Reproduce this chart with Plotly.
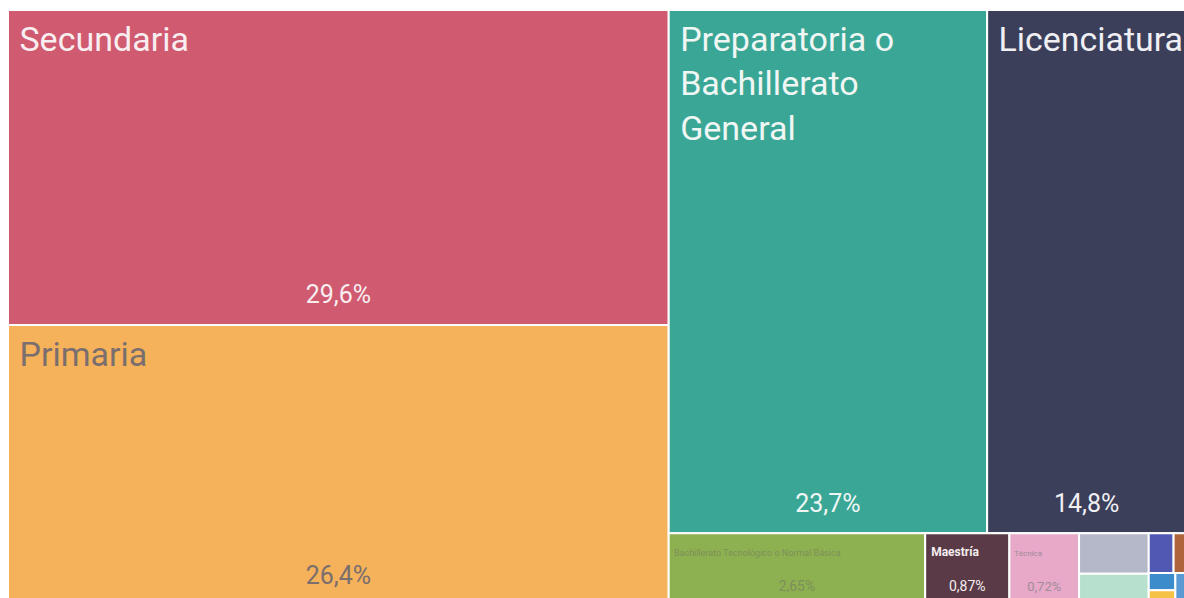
import plotly.graph_objects as go

# Nivel de escolaridad (porcentaje)
categories = [
    "Secundaria", "Primaria", "Preparatoria o Bachillerato General", "Licenciatura",
    "Bachillerato Tecnológico o Normal Básica", "Maestría", "Técnica",
    "Normal de Licenciatura", "Estudios Técnicos o Comerciales", "Ninguno",
    "Doctorado", "Preescolar", "Especialidad", "Otro",
]
# lines of the name shown in each tile ([] = no text on tiny tiles)
name_lines = [
    ["Secundaria"], ["Primaria"], ["Preparatoria o", "Bachillerato", "General"], ["Licenciatura"],
    ["Bachillerato Tecnológico o Normal Básica"], ["<b>Maestría</b>"], ["Técnica"],
    [], [], [], [], [], [], [],
]
shares = [29.6, 26.4, 23.7, 14.8, 2.65, 0.87, 0.72, 0.40, 0.32, 0.14, 0.07, 0.065, 0.06, 0.05]

colors = [
    "#d05a70", "#f5b25a", "#3aa796", "#3c3f5a", "#8db150", "#5a3a46", "#e8a8c8",
    "#b4b8c8", "#b8e0cf", "#5058b4", "#b0643c", "#3c8ccc", "#f5c246", "#5a9ad4",
]
text_colors = [
    "#f8eef0", "#7a6e6e", "#f0f6f4", "#f0f0f4", "#7d8f5a", "#f4eef0", "#a08c98",
    "#80848f", "#80a090", "#e0e2f4", "#f4e8e0", "#e0ecf8", "#8a7440", "#e0ecf8",
]
# visible font sizes, and base sizes (used as spacer lines)
name_size = [34, 34, 34, 34, 9, 12, 8, 8, 8, 8, 8, 8, 8, 8]
name_base = [17, 17, 17, 17, 9, 9, 9, 9, 9, 9, 9, 9, 9, 9]
pct_size = [25, 25, 25, 25, 14, 14, 13, 8, 8, 8, 8, 8, 8, 8]
pct_base = [12, 12, 12, 12, 8, 8, 8, 8, 8, 8, 8, 8, 8, 8]

FONT = "Roboto, sans-serif"
parents = [""] * len(categories)


def span(t, size):
    return f"<span style='font-size:{size}px'>\u00a0{t}</span>"


name_text = []
for lines, size in zip(name_lines, name_size):
    if lines:
        name_text.append("\u00a0<br>" + "<br><br>".join(span(l, size) for l in lines))
    else:
        name_text.append("")

pct_text = []
for v, lines, size in zip(shares, name_lines, pct_size):
    if lines:
        pct = f"{v:.3g}".replace(".", ",") + "%"
        pct_text.append(f"<span style='font-size:{size}px'>{pct}</span><br>\u00a0")
    else:
        pct_text.append("")

fig = go.Figure()

# tiles + category names (top left)
fig.add_trace(go.Treemap(
    labels=categories,
    parents=parents,
    values=shares,
    text=name_text,
    texttemplate="%{text}",
    textposition="top left",
    textfont=dict(family=FONT, size=name_base, color=text_colors),
    marker=dict(colors=colors, line=dict(color="white", width=2),
                pad=dict(t=0, l=0, r=0, b=0)),
    tiling=dict(pad=0, squarifyratio=1.618),
    pathbar=dict(visible=False),
    sort=True,
    domain=dict(x=[0, 1], y=[0, 1]),
    hoverinfo="label+value",
))

# percentages (bottom center), same tiling on a transparent layer
fig.add_trace(go.Treemap(
    labels=categories,
    parents=parents,
    values=shares,
    text=pct_text,
    texttemplate="%{text}",
    textposition="bottom center",
    textfont=dict(family=FONT, size=pct_base, color=text_colors),
    marker=dict(colors=["rgba(0,0,0,0)"] * len(categories), line=dict(width=0),
                pad=dict(t=0, l=0, r=0, b=0)),
    tiling=dict(pad=0, squarifyratio=1.618),
    pathbar=dict(visible=False),
    sort=True,
    domain=dict(x=[0, 1], y=[0, 1]),
    hoverinfo="skip",
))

# the source image is a crop: the treemap runs slightly past the right and bottom edges
fig.update_layout(
    width=1186,
    height=606,
    margin=dict(l=8, r=0, t=10, b=0),
    paper_bgcolor="white",
    showlegend=False,
)

fig.write_html(
    "out.html",
    config={"displayModeBar": False},
    post_script="document.body.style.margin='0';document.body.style.overflow='hidden';",
)
